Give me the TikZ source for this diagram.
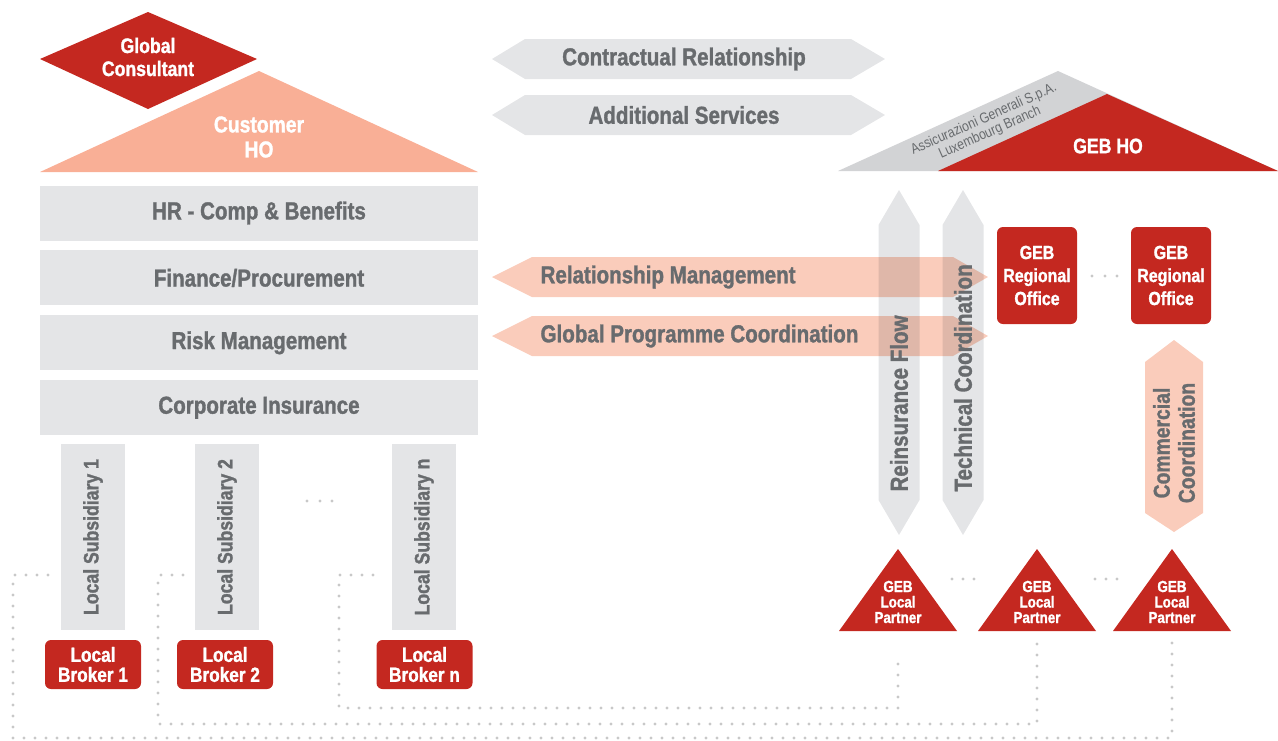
\documentclass[tikz,border=0pt]{standalone}
\usepackage{fontspec}
\setmainfont{Liberation Sans}[FakeStretch=0.84, BoldFeatures={FakeBold=1.3}]
\usetikzlibrary{positioning, calc}

\definecolor{gebred}{RGB}{196,40,32}
\definecolor{custsalmon}{RGB}{249,175,150}
\definecolor{flowsalmon}{RGB}{250,204,187}
\definecolor{bargray}{RGB}{228,229,231}
\definecolor{roofgray}{RGB}{210,211,213}
\definecolor{txtgray}{RGB}{104,107,110}
\definecolor{dotgray}{RGB}{200,200,200}

\newcommand{\lblfont}{\fontsize{24.5}{28}\selectfont\bfseries}
\newcommand{\headfont}{\fontsize{21}{23}\selectfont\bfseries}
\newcommand{\officefont}{\fontsize{19}{23}\selectfont\bfseries}
\newcommand{\brokerfont}{\fontsize{20.5}{20}\selectfont\bfseries}
\newcommand{\partnerfont}{\fontsize{16}{15.5}\selectfont\bfseries}
\newcommand{\subsfont}{\fontsize{21}{22}\selectfont\bfseries}
\newcommand{\branchfont}{\fontsize{14.5}{15}\selectfont}

\tikzset{
    graylbl/.style={text=txtgray, font=\lblfont},
    dept/.style={graylbl, fill=bargray, minimum width=438pt, minimum height=55pt},
    subsidiary/.style={fill=bargray, text=txtgray, font=\subsfont, rotate=90,
        minimum width=186pt, minimum height=64pt},
    broker/.style={fill=gebred, text=white, font=\brokerfont, align=center,
        rounded corners=6pt, minimum width=96pt, minimum height=49pt, inner sep=0pt},
    office/.style={fill=gebred, text=white, font=\officefont, align=center,
        rounded corners=6pt, minimum width=80pt, minimum height=97pt, inner sep=0pt},
    whitelbl/.style={text=white, font=\headfont, align=center},
    partner/.style={text=white, font=\partnerfont, align=center},
    dotline/.style={draw=dotgray, line width=3.2pt, line cap=round, dash pattern=on 0pt off 11pt},
    sepdot/.style={fill=dotgray}
}

\begin{document}
\begin{tikzpicture}[x=1pt, y=-1pt]
    \useasboundingbox (0,0) rectangle (1278,740);

    % Customer side: consultant, head office and departments
    \fill[gebred] (40,59) -- (148,12) -- (257,59) -- (148,109) -- cycle;
    \node[whitelbl] (consult) at (148,57) {Global\\Consultant};
    \fill[custsalmon] (40,172) -- (259,71) -- (478,172) -- cycle;
    \node[whitelbl, font=\fontsize{23}{25}\selectfont\bfseries] (custho) at (259,137) {Customer\\HO};

    \node[dept] (hr) at (259,213) {HR - Comp \& Benefits};
    \node[dept, below=9.5pt of hr] (fin) {Finance/Procurement};
    \node[dept, below=9.5pt of fin] (risk) {Risk Management};
    \node[dept, below=9.5pt of risk] (corp) {Corporate Insurance};

    % Subsidiaries and brokers
    \node[subsidiary] (sub1) at (93,537) {Local Subsidiary 1};
    \node[subsidiary] (sub2) at (227,537) {Local Subsidiary 2};
    \node[subsidiary] (subn) at (424,537) {Local Subsidiary n};
    \foreach \x in {307,320,332}
        \fill[sepdot] (\x,501) circle (1.6pt);

    \node[broker] (brk1) at (93,664.5) {Local\\Broker 1};
    \node[broker] (brk2) at (225,664.5) {Local\\Broker 2};
    \node[broker] (brkn) at (424.5,664.5) {Local\\Broker n};

    % Top relationship arrows
    \fill[bargray] (492,59) -- (525,39) -- (851,39) -- (885,59) -- (851,79) -- (525,79) -- cycle;
    \fill[bargray] (492,115) -- (525,95) -- (851,95) -- (885,115) -- (851,135) -- (525,135) -- cycle;
    \node[graylbl] (contract) at (684,59) {Contractual Relationship};
    \node[graylbl] (addserv) at (684,115) {Additional Services};

    % GEB head office roof
    \fill[roofgray] (838,171) -- (1058,71) -- (1278,171) -- cycle;
    \fill[gebred] (938,171) -- (1107,94) -- (1278,171) -- cycle;
    \node[rotate=24, align=center, text=txtgray, font=\branchfont] (agspa) at (987,126)
        {Assicurazioni Generali S.p.A.\\Luxembourg Branch};
    \node[whitelbl] (gebho) at (1108,146) {GEB HO};

    % Vertical flows
    \foreach \x in {899,963}
        \fill[bargray] (\x,190) -- (\x+20.5,225) -- (\x+20.5,500) -- (\x,535)
            -- (\x-20.5,500) -- (\x-20.5,225) -- cycle;

    % Horizontal flows (overlapping the vertical ones)
    \begin{scope}[blend mode=multiply]
        \fill[flowsalmon] (492,277) -- (532,257) -- (953,257) -- (988,277) -- (953,297) -- (532,297) -- cycle;
        \fill[flowsalmon] (492,336) -- (532,316) -- (953,316) -- (988,336) -- (953,356) -- (532,356) -- cycle;
    \end{scope}
    \node[graylbl, anchor=west] (relman) at (537,277) {Relationship Management};
    \node[graylbl, anchor=west] (gpc) at (537,336) {Global Programme Coordination};
    \node[graylbl, rotate=90, anchor=west] (reins) at (899,495) {Reinsurance Flow};
    \node[graylbl, rotate=90, anchor=west] (techco) at (963,495) {Technical Coordination};

    % Regional offices
    \node[office] (ro1) at (1037,275.5) {GEB\\Regional\\Office};
    \node[office] (ro2) at (1171,275.5) {GEB\\Regional\\Office};
    \foreach \x in {1092,1105,1117}
        \fill[sepdot] (\x,276) circle (1.6pt);

    \fill[flowsalmon] (1174,340) -- (1203,362) -- (1203,513) -- (1174,532) -- (1145,513) -- (1145,362) -- cycle;
    \node[graylbl, rotate=90, align=center, font=\fontsize{23}{25}\selectfont\bfseries] (commco) at (1174,443)
        {Commercial\\Coordination};

    % Local partners
    \foreach \x/\n in {898/1,1037/2,1172/3} {
        \fill[gebred] (\x-59,631) -- (\x,549) -- (\x+59,631) -- cycle;
        \node[partner] (lp\n) at (\x,602) {GEB\\Local\\Partner};
    }
    \foreach \x in {952,963,974,1095,1106,1117}
        \fill[sepdot] (\x,579) circle (1.6pt);

    % Dotted links subsidiary -> partner
    \coordinate (sub1out) at (48,575);
    \coordinate (sub2out) at (183,575);
    \coordinate (subnout) at (373,575);
    \coordinate (lp1in) at (898,653);
    \coordinate (lp2in) at (1037,640);
    \coordinate (lp3in) at (1172,641);
    \draw[dotline] (sub1out) -- (13,575) -- (13,738) -| (lp3in);
    \draw[dotline] (sub2out) -- (158,575) -- (158,724) -| (lp2in);
    \draw[dotline] (subnout) -- (339,575) -- (339,708) -| (lp1in);
\end{tikzpicture}
\end{document}
